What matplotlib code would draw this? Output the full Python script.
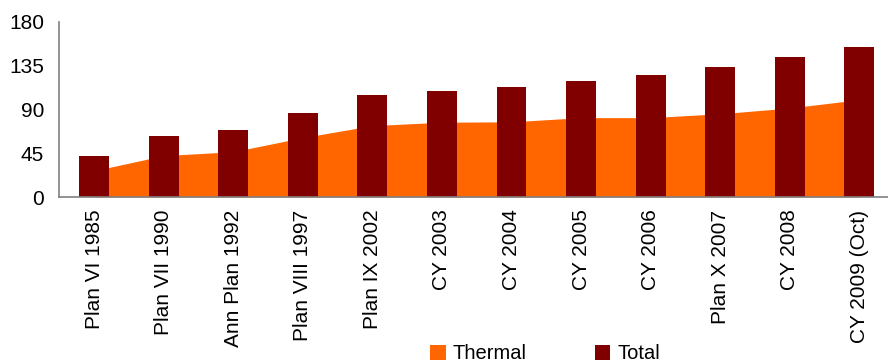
import matplotlib
matplotlib.use("Agg")
import matplotlib.pyplot as plt
from matplotlib.patches import Patch
import numpy as np

plt.rcParams['font.family'] = ['Liberation Sans', 'DejaVu Sans']

categories = ["Plan VI 1985", "Plan VII 1990", "Ann Plan 1992", "Plan VIII 1997",
              "Plan IX 2002", "CY 2003", "CY 2004", "CY 2005", "CY 2006",
              "Plan X 2007", "CY 2008", "CY 2009 (Oct)"]
thermal = [27.0, 42.5, 46.5, 61.0, 73.3, 76.8, 77.2, 81.5, 81.5, 85.5, 91.4, 100.0]
total = [42.5, 63.0, 69.3, 85.8, 104.4, 108.6, 112.7, 118.9, 125.1, 133.4, 143.7, 154.1]
yticks = [0, 45, 90, 135, 180]

THERMAL_COLOR = "#FF6600"
TOTAL_COLOR = "#800000"

fig = plt.figure(figsize=(8.88, 3.63), dpi=100)
ax = fig.add_axes([0.0667, 0.4573, 0.9403, 0.4829])

x = np.arange(len(categories))
ax.fill_between(x, 0, thermal, color=THERMAL_COLOR, linewidth=0, zorder=1)
ax.bar(x, total, width=0.43, color=TOTAL_COLOR, zorder=2)

ax.set_xlim(-0.5, len(categories) - 0.5)
ax.set_ylim(0, 180)
ax.set_yticks(yticks)
ax.set_xticks(x)
ax.set_xticklabels(categories, rotation=90, va="top", ha="center")
ax.tick_params(axis="y", length=0, pad=11, labelsize=15)
ax.tick_params(axis="x", length=0, pad=9, labelsize=15)

for side in ("top", "right"):
    ax.spines[side].set_visible(False)
for side in ("left", "bottom"):
    ax.spines[side].set_color("#808080")
    ax.spines[side].set_linewidth(1.2)
    ax.spines[side].set_zorder(3)

handles = [Patch(facecolor=THERMAL_COLOR, edgecolor="none", label="Thermal"),
           Patch(facecolor=TOTAL_COLOR, edgecolor="none", label="Total")]
fig.legend(handles=handles, loc="center", bbox_to_anchor=(0.614, 0.025),
           ncol=2, frameon=False, fontsize=14.5, handlelength=0.75,
           handleheight=0.75, handletextpad=0.35, columnspacing=3.4,
           borderpad=0, borderaxespad=0)

fig.savefig("out.png", dpi=100)
